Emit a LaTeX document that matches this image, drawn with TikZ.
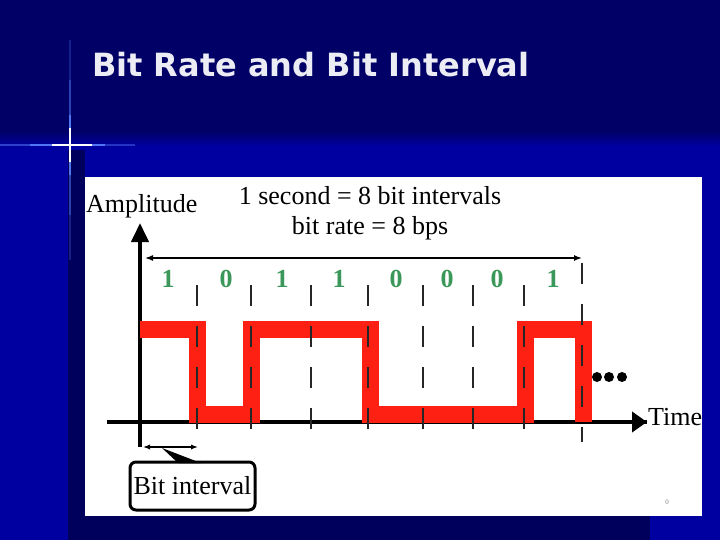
\documentclass[tikz,border=0pt]{standalone}
\usepackage{fontspec}
\setmainfont{Liberation Serif}
\newfontfamily\titlefont{DejaVu Sans}
\usetikzlibrary{arrows.meta}

\definecolor{navytop}{RGB}{0,0,102}
\definecolor{slideblue}{RGB}{0,0,160}
\definecolor{navyshadow}{RGB}{0,0,92}
\definecolor{glowblue}{RGB}{90,130,255}
\definecolor{signalred}{RGB}{255,32,20}
\definecolor{bitgreen}{RGB}{60,152,90}
\definecolor{titlewhite}{RGB}{236,236,244}

\tikzset{
  axis/.style={line width=4pt},
  signal/.style={signalred, line width=17pt, line join=miter},
  tick/.style={line width=2.5pt, black!85, dash pattern=on 21pt off 20pt},
  bitlabel/.style={bitgreen, anchor=base, font=\fontsize{26}{30}\selectfont\bfseries},
  label/.style={font=\fontsize{26}{30}\selectfont, inner sep=0pt},
  glow/.style={glowblue, line width=1.2pt},
  callout/.style={draw, line width=3pt, rounded corners=6pt, minimum width=125pt, minimum height=48pt, inner sep=2pt, font=\fontsize{26}{30}\selectfont}
}

\begin{document}
\begin{tikzpicture}[x=1pt, y=-1pt]
	\useasboundingbox (0,0) rectangle (720,540);
	% slide background
	\fill[slideblue] (0,0) rectangle (720,540);
	\fill[navytop] (0,0) rectangle (720,132);
	\shade[top color=navytop, bottom color=slideblue] (0,131) rectangle (720,146);
	\fill[navyshadow] (68,150) rectangle (85,540);
	\fill[navyshadow] (68,516) rectangle (650,540);
	\foreach \a/\b/\o in {40/80/0.25,80/115/0.5,115/175/0.9,175/215/0.5,215/260/0.25} {\draw[glow, opacity=\o] (70,\a) -- (70,\b);}
	\foreach \a/\b/\o in {0/30/0.5,30/105/0.9,105/135/0.4} {\draw[glow, opacity=\o] (\a,145) -- (\b,145);}
	\draw[white, line width=1.2pt] (70,128) -- (70,162) (52,145) -- (92,145);
	\node[titlewhite, anchor=base west, inner sep=0pt, font=\titlefont\bfseries\fontsize{32}{36}\selectfont] (title) at (92,77) {Bit Rate and Bit Interval};
	% white panel
	\fill[white] (85,177) rectangle (702,516);
	\node[font=\fontsize{7}{8}\selectfont, gray] (pagenum) at (667,502) {0};

	% axes
	\coordinate (origin) at (140,422);
	\coordinate (ytop) at (140,223);
	\coordinate (ybot) at (140,447);
	\coordinate (xleft) at (107,422);
	\coordinate (xright) at (647,422);
	\draw[axis] (xleft) -- (xright);
	\draw[axis, -{Triangle[length=15pt, width=20pt]}] (xright) ++(-16,0) -- (xright);
	\draw[axis, -{Triangle[length=19pt, width=17pt]}] (ybot) -- (ytop);

	% signal 1 0 1 1 0 0 0 1
	\draw[signal] (140,329) -- (197,329) -- (197,414) -- (251,414) -- (251,329) -- (370,329) -- (370,414) -- (525,414) -- (525,329) -- (583,329) -- (583,422);

	% bit boundaries
	\foreach \x in {197,251,311,368,423,473,524} {\draw[tick] (\x,285) -- (\x,437);}
	\draw[tick] (582,263) -- (582,442);
	\foreach \b/\x in {1/168,0/226,1/282,1/339,0/396,0/447,0/497,1/553} {\node[bitlabel] at (\x,287) {\b};}

	% one second span
	\coordinate (secleft) at (145,258);
	\coordinate (secright) at (582,258);
	\draw[line width=1.5pt, {Latex[length=8pt]}-{Latex[length=8pt]}] (secleft) -- (secright);
	\node[label, anchor=base] (sec) at (370,205) {1 second = 8 bit intervals};
	\node[label, anchor=base] (rate) at (370,235) {bit rate = 8 bps};
	\node[label, anchor=base west] (amp) at (86,212) {Amplitude};
	\node[label, anchor=base west] (time) at (648,425) {Time};
	\foreach \x in {597,609,622} {\fill (\x,377) circle (5);}

	% bit interval callout
	\coordinate (bitleft) at (143,447);
	\coordinate (bitright) at (198,447);
	\draw[line width=1.5pt, {Latex[length=7pt]}-{Latex[length=7pt]}] (bitleft) -- (bitright);
	\node[callout] (bitbox) at (192.5,486) {Bit interval};
	\fill (162,448) -- (178,463) -- (201,463) -- cycle;
\end{tikzpicture}
\end{document}
